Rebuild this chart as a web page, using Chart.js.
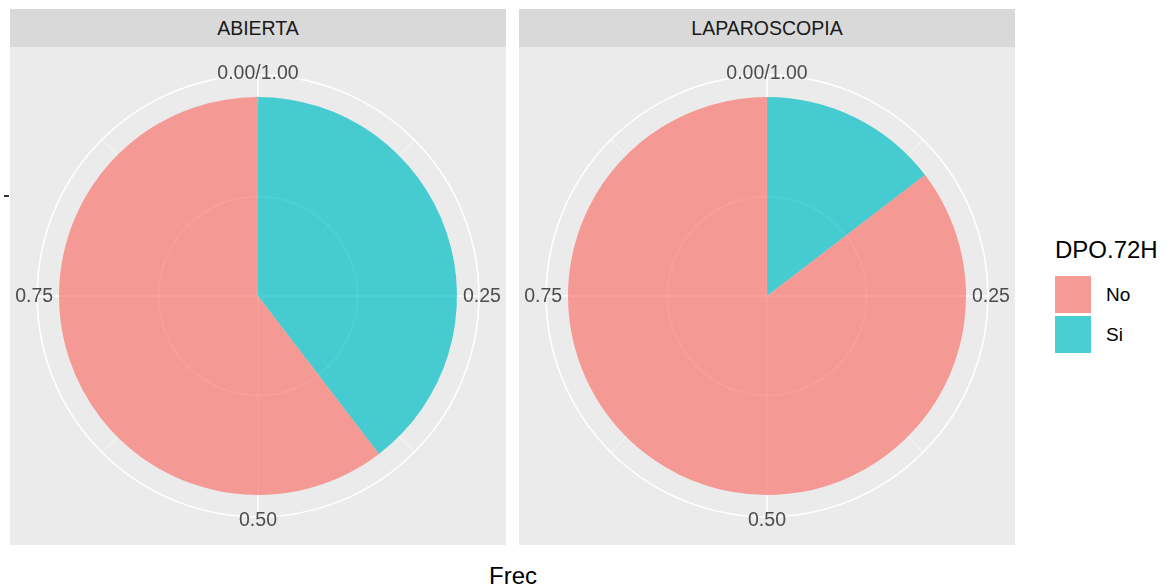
<!DOCTYPE html>
<html>
<head>
<meta charset="utf-8">
<script src="https://cdn.jsdelivr.net/npm/chart.js@4.4.0/dist/chart.umd.min.js"></script>
<style>
    body { margin: 0; background: #fff; font-family: "Liberation Sans", Arial, sans-serif; }
    #page { position: relative; width: 1167px; height: 588px; overflow: hidden; }
    .strip { position: absolute; top: 9px; width: 496px; height: 38px; background: #D9D9D9;
             color: #1A1A1A; font-size: 19.5px; line-height: 38px; text-align: center; }
    .panel { position: absolute; top: 47px; width: 496px; height: 498px; }
    .panel canvas { display: block; }
    #rtick { position: absolute; left: 4px; top: 195px; width: 5px; height: 2px; background: #333; }
    #xtitle { position: absolute; left: 0; width: 1026px; top: 564px; text-align: center;
              font-size: 24px; line-height: 24px; color: #000; }
    #legend { position: absolute; left: 1055px; top: 238px; }
    #legend .title { font-size: 24px; line-height: 24px; color: #000; margin-bottom: 14px; }
    #legend .item { position: relative; height: 37px; margin-bottom: 3px; }
    #legend .key { position: absolute; left: 0; top: 0; width: 36px; height: 37px; }
    #legend .lab { position: absolute; left: 51px; top: 0; line-height: 37px; font-size: 19px; color: #000; }
</style>
</head>
<body>
<div id="page">
    <div class="strip" style="left:10px">ABIERTA</div>
    <div class="strip" style="left:519px">LAPAROSCOPIA</div>
    <div class="panel" style="left:10px"><canvas id="pie1" width="496" height="498"></canvas></div>
    <div class="panel" style="left:519px"><canvas id="pie2" width="496" height="498"></canvas></div>
    <div id="rtick"></div>
    <div id="xtitle">Frec</div>
    <div id="legend"></div>
</div>
<script>
// Data (fraction of each group)
const groups = ['ABIERTA', 'LAPAROSCOPIA'];
const categories = ['Si', 'No'];            // drawn clockwise from the top
const abiertaFrec = [0.396, 0.604];
const laparoscopiaFrec = [0.146, 0.854];

// Angle axis ticks
const thetaBreaks = [0, 0.25, 0.5, 0.75];
const thetaLabels = ['0.00/1.00', '0.25', '0.50', '0.75'];
const thetaMinor = [0.125, 0.375, 0.625, 0.875];

// Legend
const legendTitle = 'DPO.72H';
const legendLabels = ['No', 'Si'];

const fillColors = { Si: 'rgba(0,191,196,0.7)', No: 'rgba(248,118,109,0.7)' };
const keyColors = { Si: '#49CED2', No: '#F69B95' };

// panel background, grid circles and spokes, drawn under the pie
const polarGrid = {
    id: 'polarGrid',
    beforeDatasetsDraw(chart) {
        const ctx = chart.ctx;
        const arc = chart.getDatasetMeta(0).data[0];
        const cx = arc.x, cy = arc.y, R = arc.outerRadius;
        const rOuter = R * 1.11;

        ctx.save();
        ctx.fillStyle = '#EBEBEB';
        ctx.fillRect(0, 0, chart.width, chart.height);
        ctx.strokeStyle = '#FFFFFF';

        // minor spokes
        ctx.lineWidth = 0.7;
        thetaMinor.forEach(t => {
            const a = t * Math.PI * 2 - Math.PI / 2;
            ctx.beginPath();
            ctx.moveTo(cx, cy);
            ctx.lineTo(cx + rOuter * Math.cos(a), cy + rOuter * Math.sin(a));
            ctx.stroke();
        });

        // major spokes
        ctx.lineWidth = 1.4;
        thetaBreaks.forEach(t => {
            const a = t * Math.PI * 2 - Math.PI / 2;
            ctx.beginPath();
            ctx.moveTo(cx, cy);
            ctx.lineTo(cx + rOuter * Math.cos(a), cy + rOuter * Math.sin(a));
            ctx.stroke();
        });

        // radial grid (r = 1) and outer circle
        ctx.beginPath();
        ctx.arc(cx, cy, R * 0.5, 0, Math.PI * 2);
        ctx.stroke();
        ctx.lineWidth = 1.6;
        ctx.beginPath();
        ctx.arc(cx, cy, rOuter, 0, Math.PI * 2);
        ctx.stroke();
        ctx.restore();
    },
    afterDraw(chart) {
        const ctx = chart.ctx;
        const arc = chart.getDatasetMeta(0).data[0];
        const cx = arc.x, cy = arc.y, R = arc.outerRadius;
        const rLab = R * 1.125;

        ctx.save();
        ctx.fillStyle = '#4D4D4D';
        ctx.font = '19.5px "Liberation Sans", Arial, sans-serif';
        ctx.textAlign = 'center';
        ctx.textBaseline = 'middle';
        thetaBreaks.forEach((t, i) => {
            const a = t * Math.PI * 2 - Math.PI / 2;
            ctx.fillText(thetaLabels[i], cx + rLab * Math.cos(a), cy + rLab * Math.sin(a) + 1);
        });
        ctx.restore();
    }
};

function makePie(canvasId, values) {
    const ctx = document.getElementById(canvasId).getContext('2d');
    return new Chart(ctx, {
        type: 'pie',
        data: {
            labels: categories,
            datasets: [{
                data: values,
                backgroundColor: categories.map(c => fillColors[c]),
                borderWidth: 0,
                offset: 0,
                hoverOffset: 0
            }]
        },
        options: {
            responsive: false,
            animation: false,
            events: [],
            layout: { padding: { left: 49, right: 49, top: 50, bottom: 50 } },
            plugins: {
                legend: { display: false },
                tooltip: { enabled: false }
            }
        },
        plugins: [polarGrid]
    });
}

makePie('pie1', abiertaFrec);
makePie('pie2', laparoscopiaFrec);

// Legend
const legend = document.getElementById('legend');
legend.innerHTML = `<div class="title">${legendTitle}</div>` +
    legendLabels.map(l => `
        <div class="item">
            <div class="key" style="background:${keyColors[l]}"></div>
            <div class="lab">${l}</div>
        </div>`).join('');
</script>
</body>
</html>
